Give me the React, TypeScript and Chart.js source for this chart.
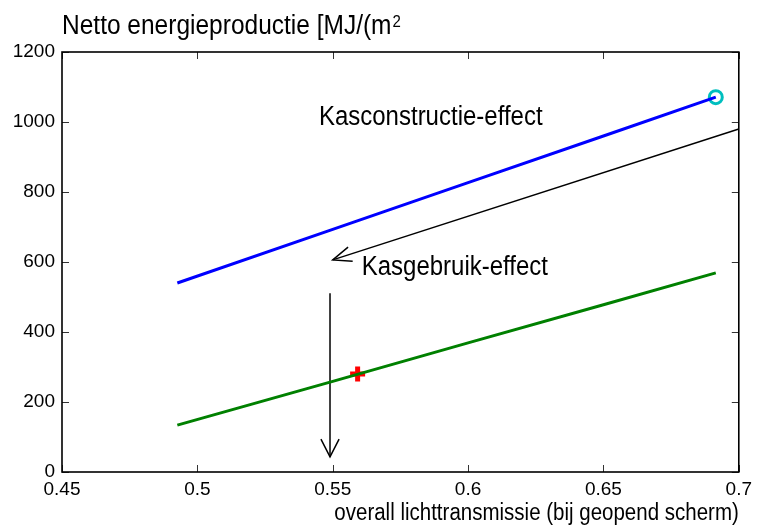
import { useEffect, useRef } from "react";
import { Chart, registerables } from "chart.js";

Chart.register(...registerables);

const xTickValues = [0.45, 0.5, 0.55, 0.6, 0.65, 0.7];
const yTickValues = [0, 200, 400, 600, 800, 1000, 1200];
const transmission = [0.4926, 0.55, 0.6, 0.65, 0.6915];
const constructionEnergy = [540, 693, 827, 960, 1071];
const usageEnergy = [134, 259, 369, 478, 569];
const designPointX = [0.6915];
const designPointY = [1071];
const currentPointX = [0.5592];
const currentPointY = [280];
const constructionArrowX = [0.7, 0.55];
const constructionArrowY = [980, 606];
const usageArrowX = [0.549, 0.549];
const usageArrowY = [511, 43];
const labelTexts = ["Kasconstructie-effect", "Kasgebruik-effect"];
const labelX = [0.5449, 0.5607];
const labelY = [991, 563];
const titleText = "Netto energieproductie [MJ/(m";
const titleSup = "2";
const xTitle = "overall lichttransmissie (bij geopend scherm)";

const FONT = "'Liberation Sans', Arial, sans-serif";
const STRETCH = 1.13;

function toXY(xs: number[], ys: number[]) {
  return xs.map((x, i) => ({ x, y: ys[i] }));
}

function arrowHead(ctx: CanvasRenderingContext2D, x0: number, y0: number, x1: number, y1: number, len: number, ang: number) {
  const a = Math.atan2(y1 - y0, x1 - x0);
  ctx.beginPath();
  ctx.moveTo(x1 - len * Math.cos(a - ang), y1 - len * Math.sin(a - ang));
  ctx.lineTo(x1, y1);
  ctx.lineTo(x1 - len * Math.cos(a + ang), y1 - len * Math.sin(a + ang));
  ctx.stroke();
}

function tallText(ctx: CanvasRenderingContext2D, text: string, x: number, y: number) {
  ctx.save();
  ctx.translate(x, y);
  ctx.scale(1, STRETCH);
  ctx.fillText(text, 0, 0);
  ctx.restore();
}

const decorPlugin = {
  id: "decor",
  afterDraw(chart: any) {
    const ctx: CanvasRenderingContext2D = chart.ctx;
    const { left, right, top, bottom } = chart.chartArea;
    const xs = chart.scales.x;
    const ys = chart.scales.y;
    ctx.save();
    // inward ticks
    ctx.strokeStyle = "#333";
    ctx.lineWidth = 1;
    const tl = 7;
    xTickValues.forEach((v) => {
      const px = Math.round(xs.getPixelForValue(v)) + 0.5;
      ctx.beginPath();
      ctx.moveTo(px, bottom);
      ctx.lineTo(px, bottom - tl);
      ctx.moveTo(px, top);
      ctx.lineTo(px, top + tl);
      ctx.stroke();
    });
    yTickValues.forEach((v) => {
      const py = Math.round(ys.getPixelForValue(v)) + 0.5;
      ctx.beginPath();
      ctx.moveTo(left, py);
      ctx.lineTo(left + tl, py);
      ctx.moveTo(right, py);
      ctx.lineTo(right - tl, py);
      ctx.stroke();
    });
    // box
    ctx.strokeStyle = "#000";
    ctx.lineWidth = 1.6;
    ctx.strokeRect(left, top, right - left, bottom - top);

    // arrow heads
    ctx.strokeStyle = "#000";
    ctx.lineWidth = 1.5;
    arrowHead(
      ctx,
      xs.getPixelForValue(constructionArrowX[0]),
      ys.getPixelForValue(constructionArrowY[0]),
      xs.getPixelForValue(constructionArrowX[1]),
      ys.getPixelForValue(constructionArrowY[1]),
      20,
      (22 * Math.PI) / 180
    );
    arrowHead(
      ctx,
      xs.getPixelForValue(usageArrowX[0]),
      ys.getPixelForValue(usageArrowY[0]),
      xs.getPixelForValue(usageArrowX[1]),
      ys.getPixelForValue(usageArrowY[1]),
      20,
      (27 * Math.PI) / 180
    );

    // annotation texts
    ctx.fillStyle = "#000";
    ctx.textBaseline = "alphabetic";
    ctx.textAlign = "left";
    ctx.font = `24px ${FONT}`;
    labelTexts.forEach((t, i) => {
      tallText(ctx, t, xs.getPixelForValue(labelX[i]), ys.getPixelForValue(labelY[i]));
    });

    // title with superscript
    ctx.font = `24.5px ${FONT}`;
    tallText(ctx, titleText, left, 34);
    const w = ctx.measureText(titleText).width;
    ctx.font = `15px ${FONT}`;
    tallText(ctx, titleSup, left + w + 1, 27);

    // x axis title
    ctx.font = `20.5px ${FONT}`;
    ctx.textAlign = "right";
    tallText(ctx, xTitle, right, 520);
    ctx.restore();
  },
};

export default function App() {
  const ref = useRef<HTMLCanvasElement | null>(null);
  useEffect(() => {
    if (!ref.current) return;
    const chart = new Chart(ref.current, {
      type: "scatter",
      data: {
        datasets: [
          {
            data: toXY(transmission, constructionEnergy),
            showLine: true,
            borderColor: "#0000ff",
            borderWidth: 3,
            pointRadius: 0,
          },
          {
            data: toXY(transmission, usageEnergy),
            showLine: true,
            borderColor: "#008000",
            borderWidth: 3,
            pointRadius: 0,
          },
          {
            data: toXY(constructionArrowX, constructionArrowY),
            showLine: true,
            borderColor: "#000",
            borderWidth: 1.5,
            pointRadius: 0,
          },
          {
            data: toXY(usageArrowX, usageArrowY),
            showLine: true,
            borderColor: "#000",
            borderWidth: 1.5,
            pointRadius: 0,
          },
          {
            data: toXY(designPointX, designPointY),
            pointStyle: "circle",
            pointRadius: 6.5,
            borderColor: "#00bfbf",
            backgroundColor: "rgba(0,0,0,0)",
            borderWidth: 3,
          },
          {
            data: toXY(currentPointX, currentPointY),
            pointStyle: "cross",
            pointRadius: 7.5,
            borderColor: "#ff0000",
            backgroundColor: "#ff0000",
            borderWidth: 5,
          },
        ],
      },
      options: {
        responsive: false,
        animation: false,
        devicePixelRatio: 1,
        layout: { padding: { top: 52, right: 16, left: 0, bottom: 0 } },
        plugins: { legend: { display: false }, tooltip: { enabled: false }, title: { display: false } },
        scales: {
          x: {
            type: "linear",
            min: 0.45,
            max: 0.7,
            afterBuildTicks: (scale: any) => {
              scale.ticks = xTickValues.map((v) => ({ value: v }));
            },
            afterFit: (scale: any) => {
              scale.height = 53;
            },
            grid: { display: false, drawTicks: false },
            border: { display: false },
            ticks: {
              color: "#000",
              font: { family: FONT, size: 19 },
              padding: 6,
              maxRotation: 0,
              autoSkip: false,
              callback: (v: any) => String(Number(Number(v).toFixed(2))),
            },
          },
          y: {
            type: "linear",
            min: 0,
            max: 1200,
            afterBuildTicks: (scale: any) => {
              scale.ticks = yTickValues.map((v) => ({ value: v }));
            },
            afterFit: (scale: any) => {
              scale.width = 62;
            },
            grid: { display: false, drawTicks: false },
            border: { display: false },
            ticks: {
              color: "#000",
              font: { family: FONT, size: 19 },
              padding: 7,
              autoSkip: false,
              callback: (v: any) => String(v),
            },
          },
        },
      },
      plugins: [decorPlugin],
    } as any);
    return () => chart.destroy();
  }, []);
  return (
    <div style={{ position: "fixed", left: 0, top: 0, width: 758, height: 525, background: "#fff" }}>
      <canvas ref={ref} width={758} height={525} style={{ display: "block", width: 758, height: 525 }} />
    </div>
  );
}
